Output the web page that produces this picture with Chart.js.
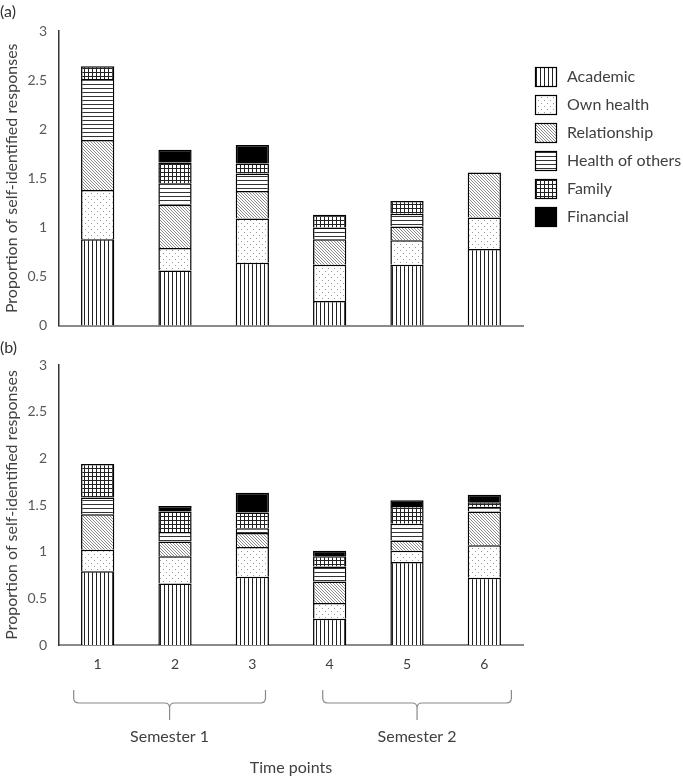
<!DOCTYPE html>
<html>
<head>
<meta charset="utf-8">
<script src="https://cdn.jsdelivr.net/npm/chart.js@4.4.0/dist/chart.umd.min.js"></script>
<style>
  body { margin: 0; background: #fff; }
  #wrap { position: relative; width: 683px; height: 778px; font-family: Lato, sans-serif; }
  canvas { position: absolute; left: 0; }
  .panel { position: absolute; left: 0; font-size: 16px; color: #333; }
</style>
</head>
<body>
<div id="wrap">
  <canvas id="chartA" width="683" height="346" style="top:0"></canvas>
  <canvas id="chartB" width="683" height="438" style="top:340px"></canvas>
  <div class="panel" style="top:1px">(a)</div>
  <div class="panel" style="top:337px">(b)</div>
</div>
<script>
// time points and stress categories
const timePoints = ["1", "2", "3", "4", "5", "6"];
const categories = ["Academic", "Own health", "Relationship", "Health of others", "Family", "Financial"];
const yTicks = [0, 0.5, 1, 1.5, 2, 2.5, 3];
const semesters = ["Semester 1", "Semester 2"];
const semesterRanges = [[0, 2], [3, 5]];

// panel (a)
const academicA     = [0.88, 0.56, 0.64, 0.25, 0.62, 0.78];
const ownHealthA    = [0.50, 0.23, 0.45, 0.37, 0.25, 0.32];
const relationshipA = [0.51, 0.44, 0.28, 0.26, 0.14, 0.46];
const othersHealthA = [0.62, 0.22, 0.18, 0.12, 0.13, 0];
const familyA       = [0.13, 0.21, 0.10, 0.13, 0.13, 0];
const financialA    = [0, 0.13, 0.19, 0, 0, 0];

// panel (b)
const academicB     = [0.79, 0.66, 0.73, 0.28, 0.89, 0.72];
const ownHealthB    = [0.23, 0.29, 0.32, 0.17, 0.12, 0.35];
const relationshipB = [0.38, 0.16, 0.15, 0.23, 0.11, 0.36];
const othersHealthB = [0.18, 0.10, 0.05, 0.16, 0.18, 0.05];
const familyB       = [0.36, 0.22, 0.17, 0.11, 0.19, 0.05];
const financialB    = [0, 0.06, 0.21, 0.06, 0.06, 0.08];

Chart.defaults.font.family = "Lato, sans-serif";

// black & white fill patterns like the printed figure
function makePattern(kind) {
  const s = kind === "dots" ? 6 : (kind === "diag" ? 3 : 4);
  const c = document.createElement("canvas");
  c.width = s; c.height = s;
  const g = c.getContext("2d");
  g.fillStyle = kind === "solid" ? "#000" : "#fff";
  g.fillRect(0, 0, s, s);
  if (kind === "vlines") { g.fillStyle = "#222"; g.fillRect(0, 0, 1, s); }
  if (kind === "hlines") { g.fillStyle = "#333"; g.fillRect(0, 0, s, 1); }
  if (kind === "grid") { g.fillStyle = "#222"; g.fillRect(0, 0, 1, s); g.fillRect(0, 0, s, 1); }
  if (kind === "dots") { g.fillStyle = "#999"; g.fillRect(1, 1, 1, 1); g.fillRect(4, 4, 1, 1); }
  if (kind === "diag") { g.fillStyle = "#8a8a8a"; for (let i = 0; i < s; i++) g.fillRect(i, i, 1, 1); }
  return g.createPattern(c, "repeat");
}
const fills = ["vlines", "dots", "diag", "hlines", "grid", "solid"].map(makePattern);

function buildDatasets(series) {
  return series.map((data, i) => ({
    label: categories[i],
    data: data,
    backgroundColor: fills[i],
    borderColor: "#000",
    borderWidth: 1.5
  }));
}

function baseOptions(showX) {
  return {
    responsive: false,
    animation: false,
    plugins: { legend: { display: false }, tooltip: { enabled: false } },
    datasets: { bar: { barPercentage: 0.43, categoryPercentage: 1 } },
    scales: {
      x: {
        stacked: true,
        grid: { display: false, drawTicks: false },
        border: { display: true, color: "#8a8a8a", width: 2 },
        ticks: { display: showX, color: "#404040", font: { size: 14 }, padding: 11 },
        title: { display: showX, text: "Time points", color: "#404040", font: { size: 16 }, padding: { top: 0, bottom: 1 } },
        afterFit: (s) => { s.height = showX ? 133 : 0; }
      },
      y: {
        stacked: true,
        min: 0, max: 3,
        afterBuildTicks: (s) => { s.ticks = yTicks.map(v => ({ value: v })); },
        grid: { display: false, drawTicks: false },
        border: { display: true, color: "#333", width: 1.5 },
        ticks: { color: "#595959", font: { size: 14 }, padding: 12, callback: v => String(v) },
        title: { display: true, text: "Proportion of self-identified responses", color: "#404040", font: { size: 16 }, padding: { top: 2, bottom: 4 } },
        afterFit: (s) => { s.width = 59; }
      }
    }
  };
}

const sideLegend = {
  id: "sideLegend",
  afterDraw(chart) {
    const ctx = chart.ctx;
    ctx.save();
    chart.data.datasets.forEach((ds, i) => {
      const y = 77 + i * 28;
      ctx.fillStyle = ds.backgroundColor;
      ctx.fillRect(535, y - 10, 22, 20);
      ctx.strokeStyle = "#000";
      ctx.lineWidth = 1.2;
      ctx.strokeRect(535.5, y - 9.5, 21, 19);
      ctx.fillStyle = "#404040";
      ctx.font = "16px Lato, sans-serif";
      ctx.textBaseline = "middle";
      ctx.fillText(ds.label, 567, y);
    });
    ctx.restore();
  }
};

const semesterBraces = {
  id: "semesterBraces",
  afterDraw(chart) {
    const x = chart.scales.x, ctx = chart.ctx;
    const w = x.getPixelForValue(1) - x.getPixelForValue(0);
    const pads = [[-0.31, 0.17], [-0.09, 0.35]];
    const top = 350, mid = 363, tip = 380, r = 5;
    ctx.save();
    ctx.strokeStyle = "#8a8a8a";
    ctx.lineWidth = 1.2;
    semesterRanges.forEach((rg, i) => {
      const x0 = x.getPixelForValue(rg[0]) + pads[i][0] * w;
      const x1 = x.getPixelForValue(rg[1]) + pads[i][1] * w;
      const xm = (x0 + x1) / 2;
      ctx.beginPath();
      ctx.moveTo(x0, top);
      ctx.lineTo(x0, mid - r);
      ctx.quadraticCurveTo(x0, mid, x0 + r, mid);
      ctx.lineTo(xm - r, mid);
      ctx.quadraticCurveTo(xm, mid, xm, mid + r);
      ctx.lineTo(xm, tip);
      ctx.moveTo(xm, mid + r);
      ctx.quadraticCurveTo(xm, mid, xm + r, mid);
      ctx.lineTo(x1 - r, mid);
      ctx.quadraticCurveTo(x1, mid, x1, mid - r);
      ctx.lineTo(x1, top);
      ctx.stroke();
      ctx.fillStyle = "#404040";
      ctx.font = "16px Lato, sans-serif";
      ctx.textAlign = "center";
      ctx.textBaseline = "middle";
      ctx.fillText(semesters[i], xm, 397);
    });
    ctx.restore();
  }
};

// y tick labels need about 20px below the axis, so canvas A runs a little past 340
const optsA = baseOptions(false);
optsA.layout = { padding: { top: 31, right: 160, bottom: 8, left: 0 } };
new Chart(document.getElementById("chartA"), {
  type: "bar",
  data: {
    labels: timePoints,
    datasets: buildDatasets([academicA, ownHealthA, relationshipA, othersHealthA, familyA, financialA])
  },
  options: optsA,
  plugins: [sideLegend]
});

const optsB = baseOptions(true);
optsB.layout = { padding: { top: 25, right: 160, bottom: 0, left: 0 } };
new Chart(document.getElementById("chartB"), {
  type: "bar",
  data: {
    labels: timePoints,
    datasets: buildDatasets([academicB, ownHealthB, relationshipB, othersHealthB, familyB, financialB])
  },
  options: optsB,
  plugins: [semesterBraces]
});
</script>
</body>
</html>
